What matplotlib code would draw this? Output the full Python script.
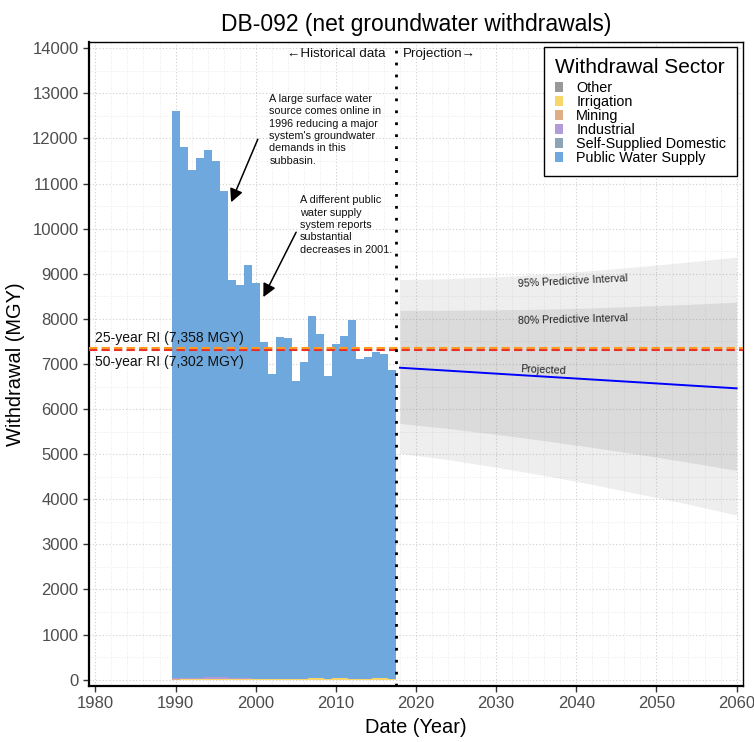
import numpy as np
import matplotlib
matplotlib.use("Agg")
import matplotlib.pyplot as plt
from matplotlib.patches import Patch

plt.rcParams['font.family'] = ['Liberation Sans', 'DejaVu Sans']

# historical withdrawals by sector (MGY)
years = list(range(1990, 2018))
public_supply = [12580, 11770, 11260, 11540, 11680, 11420, 10770, 8830, 8720, 9160,
                 8790, 7480, 6770, 7600, 7560, 6620, 7020, 8020, 7620, 6720,
                 7410, 7580, 7950, 7090, 7140, 7230, 7200, 6840]
self_domestic = [0] * 28
industrial = [25, 5, 5, 5, 30, 45, 40, 10, 5, 5,
              0, 0, 0, 0, 0, 0, 0, 0, 0, 0,
              0, 0, 0, 0, 0, 0, 0, 0]
mining = [10, 20, 20, 20, 20, 20, 20, 20, 20, 20,
          0, 0, 0, 0, 0, 0, 0, 0, 0, 0,
          0, 0, 0, 0, 0, 0, 0, 0]
irrigation = [0, 5, 5, 5, 5, 5, 5, 5, 5, 5,
              5, 5, 5, 5, 5, 10, 25, 40, 40, 20,
              35, 40, 20, 15, 10, 40, 30, 15]
other = [0] * 28

sectors = ['Other', 'Irrigation', 'Mining', 'Industrial',
           'Self-Supplied Domestic', 'Public Water Supply']
sector_colors = ['#999999', '#F9D56E', '#E0AD85', '#B19CD9', '#8EA4B4', '#6FA8DC']

# projection and predictive intervals
proj_years = [2018, 2024, 2030, 2036, 2042, 2048, 2054, 2060]
projected = [6916, 6851, 6785, 6720, 6655, 6590, 6524, 6459]
upper95 = [8870, 8890, 8930, 8990, 9070, 9160, 9260, 9370]
lower95 = [5020, 4880, 4710, 4530, 4330, 4110, 3890, 3650]
upper80 = [8190, 8190, 8200, 8215, 8240, 8280, 8320, 8370]
lower80 = [5680, 5570, 5440, 5300, 5150, 4990, 4820, 4640]

ri25 = 7358
ri50 = 7302
split_year = 2017.5

fig = plt.figure(figsize=(7.54, 7.42), dpi=100)
ax = fig.add_axes([0.118, 0.0755, 0.8674, 0.868])

# stacked bars, small sectors at the bottom
stack = [other, irrigation, mining, industrial, self_domestic]
bottom = np.zeros(len(years))
for vals, col in zip(stack, sector_colors[:5]):
    ax.bar(years, vals, width=1.0, bottom=bottom, color=col, linewidth=0, zorder=2)
    bottom += np.array(vals)
ax.bar(years, public_supply, width=1.0, bottom=bottom, color=sector_colors[5],
       linewidth=0, zorder=2)

# predictive intervals
ax.fill_between(proj_years, lower95, upper95, color='#7f7f7f', alpha=0.13,
                linewidth=0, zorder=1.5)
ax.fill_between(proj_years, lower80, upper80, color='#7f7f7f', alpha=0.17,
                linewidth=0, zorder=1.6)
ax.plot(proj_years, projected, color='#0000FF', lw=1.4, zorder=3)

ax.text(2039.6, 8833, '95% Predictive Interval', fontsize=7.7, rotation=3,
        ha='center', va='center', color='#222222', zorder=4)
ax.text(2039.6, 7985, '80% Predictive Interval', fontsize=7.7, rotation=1.5,
        ha='center', va='center', color='#222222', zorder=4)
ax.text(2035.9, 6857, 'Projected', fontsize=7.7, rotation=-2.5,
        ha='center', va='center', color='#222222', zorder=4)

# recurrence interval lines
ax.axhline(ri50, color='#E8302A', lw=1.5, ls=(0, (4, 2)), zorder=4)
ax.axhline(ri25, color='#FF9A1F', lw=1.5, ls=(0, (4, 2)), zorder=4)
ax.text(1980, 7580, '25-year RI (7,358 MGY)', fontsize=10, ha='left', va='center',
        color='#111111', zorder=5)
ax.text(1980, 7040, '50-year RI (7,302 MGY)', fontsize=10, ha='left', va='center',
        color='#111111', zorder=5)

# historical / projection divider
ax.axvline(split_year, color='black', lw=2.0, ls=(0, (1, 3.3)), zorder=5)
ax.text(2016.2, 13883, '\u2190Historical data', fontsize=9.6, ha='right',
        va='center', color='#111111')
ax.text(2018.4, 13883, 'Projection\u2192', fontsize=9.6, ha='left',
        va='center', color='#111111')

# notes
ax.text(2001.7, 12990, "A large surface water\nsource comes online in\n1996 reducing a major\n"
        "system's groundwater\ndemands in this\nsubbasin.", fontsize=7.8,
        ha='left', va='top', linespacing=1.3, color='#111111', zorder=5)
ax.annotate('', xy=(1996.8, 10528), xytext=(2000.4, 12039),
            arrowprops=dict(arrowstyle='-|>', color='black', lw=1.1,
                            mutation_scale=20), zorder=5)
ax.text(2005.5, 10740, "A different public\nwater supply\nsystem reports\n"
        "substantial\ndecreases in 2001.", fontsize=7.8,
        ha='left', va='top', linespacing=1.3, color='#111111', zorder=5)
ax.annotate('', xy=(2000.8, 8427), xytext=(2005.2, 9975),
            arrowprops=dict(arrowstyle='-|>', color='black', lw=1.1,
                            mutation_scale=20), zorder=5)

# axes, grid
ax.set_xlim(1979.2, 2060.8)
ax.set_ylim(-140, 14140)
ax.set_xticks(range(1980, 2061, 10))
ax.set_yticks(range(0, 14001, 1000))
ax.set_xticks(range(1980, 2061, 2), minor=True)
ax.set_yticks(range(0, 14001, 500), minor=True)
ax.grid(which='major', color='#cfcfcf', ls=(0, (1, 2)), lw=0.8, zorder=0)
ax.grid(which='minor', color='#e3e3e3', ls=(0, (1, 2)), lw=0.6, zorder=0)
ax.set_axisbelow(True)
ax.tick_params(which='minor', length=0)
ax.tick_params(which='major', length=4, width=1, color='#333333',
               labelsize=12, labelcolor='#4D4D4D')
for side in ['top', 'right']:
    ax.spines[side].set_linewidth(1.0)
for side in ['left', 'bottom']:
    ax.spines[side].set_linewidth(1.6)

ax.set_title('DB-092 (net groundwater withdrawals)', fontsize=16.5, pad=8)
ax.set_xlabel('Date (Year)', fontsize=14.4, labelpad=5)
ax.set_ylabel('Withdrawal (MGY)', fontsize=14.4, labelpad=5)

handles = [Patch(facecolor=c, edgecolor='none') for c in sector_colors]
leg = ax.legend(handles, sectors, title='Withdrawal Sector', loc='upper right',
                bbox_to_anchor=(0.991, 0.992), borderaxespad=0, fontsize=10.4,
                title_fontsize=15, frameon=True, fancybox=False, framealpha=1,
                edgecolor='black', handlelength=0.55, handleheight=0.7,
                labelspacing=0.0, handletextpad=0.95, borderpad=0.75,
                alignment='left')
leg._legend_box.sep = 3
leg.get_frame().set_linewidth(1.0)
leg.set_zorder(6)

fig.savefig('out.png', dpi=100)
